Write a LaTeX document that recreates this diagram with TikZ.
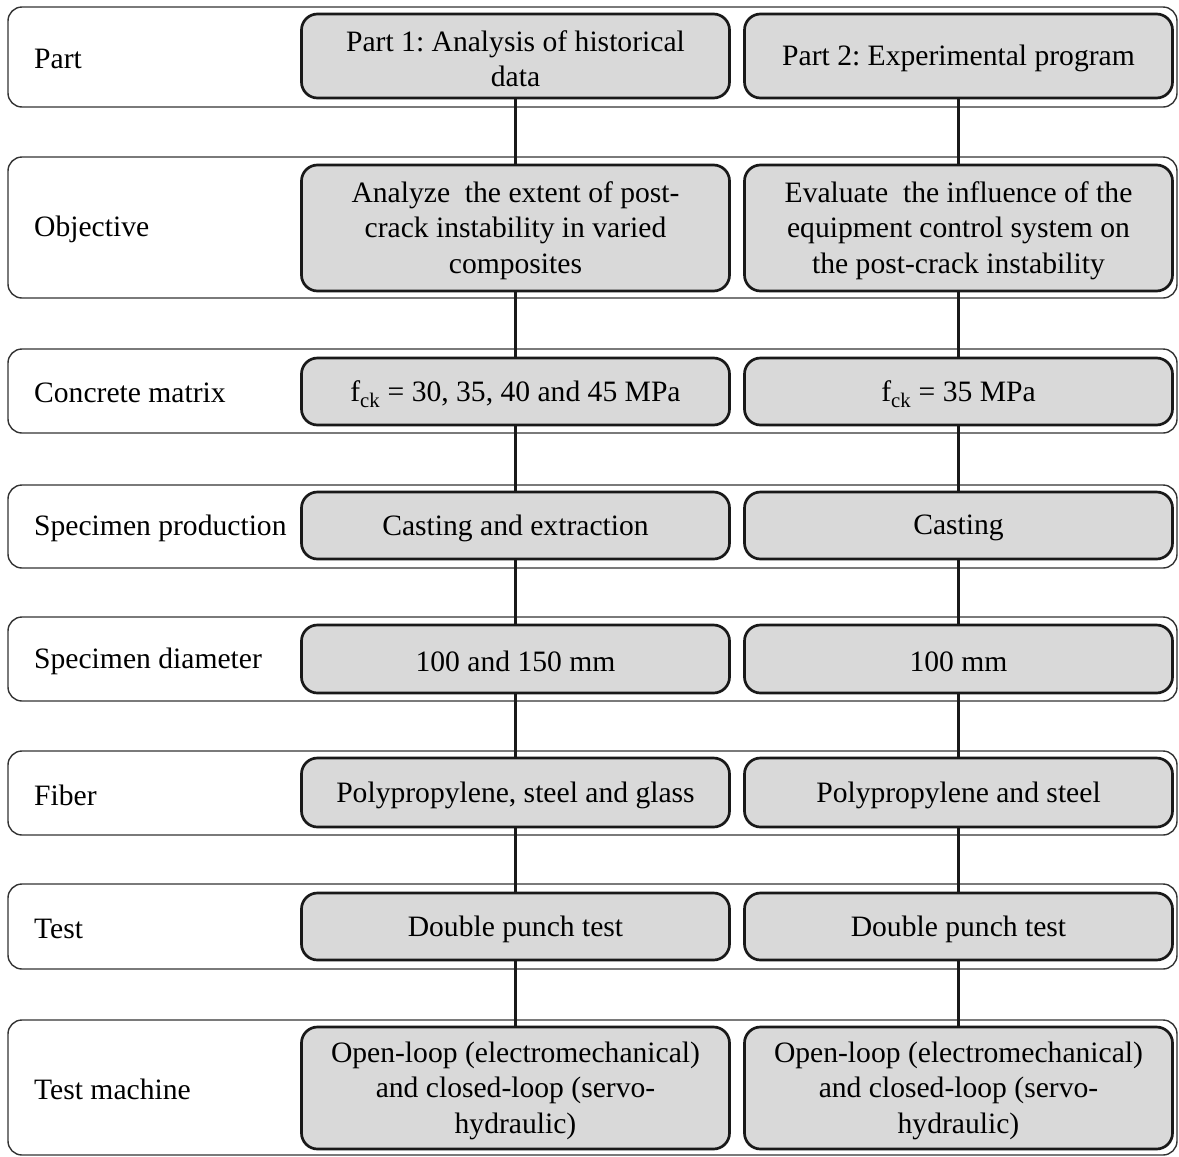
\documentclass[tikz,border=0pt]{standalone}
\usepackage{fontspec}
\setmainfont{Liberation Serif}
\frenchspacing
\begin{document}
\begin{tikzpicture}[x=1pt,y=-1pt,
  rowbox/.style={draw=black!80, line width=1.4pt, rounded corners=14pt, fill=white,
    minimum width=1169pt, inner sep=0pt, outer sep=0pt},
  graybox/.style={draw=black!90, line width=2.7pt, rounded corners=16pt, fill=gray!30,
    minimum width=428pt, inner sep=0pt, outer sep=0pt},
  boxtext/.style={align=center, inner sep=0pt, yshift=-2.5pt,
    font=\fontsize{29.6}{35.5}\selectfont},
  rowlabel/.style={anchor=west, inner sep=0pt, yshift=-2pt,
    font=\fontsize{29.6}{35.5}\selectfont},
  link/.style={draw=black!90, line width=2.4pt}]
\useasboundingbox (0,0) rectangle (1179,1157);
\fill[white] (0,0) rectangle (1179,1157);

% row frames
\node[rowbox, minimum height=100pt] (O1) at (592.5,57) {};
\node[rowbox, minimum height=141pt] (O2) at (592.5,227.5) {};
\node[rowbox, minimum height=84pt] (O3) at (592.5,391) {};
\node[rowbox, minimum height=83pt] (O4) at (592.5,526.5) {};
\node[rowbox, minimum height=84pt] (O5) at (592.5,659) {};
\node[rowbox, minimum height=84pt] (O6) at (592.5,793) {};
\node[rowbox, minimum height=85pt] (O7) at (592.5,926.5) {};
\node[rowbox, minimum height=135pt] (O8) at (592.5,1087.5) {};

% row labels
\node[rowlabel] (T1) at (34,57) {Part};
\node[rowlabel] (T2) at (34,227.5) {Objective};
\node[rowlabel] (T3) at (34,391) {Concrete matrix};
\node[rowlabel] (T4) at (34,526.5) {Specimen production};
\node[rowlabel] (T5) at (34,659) {Specimen diameter};
\node[rowlabel] (T6) at (34,793) {Fiber};
\node[rowlabel] (T7) at (34,926.5) {Test};
\node[rowlabel] (T8) at (34,1087.5) {Test machine};

% gray boxes
\node[graybox, minimum height=84pt]  (L1) at (515.5,56) {};
\node[graybox, minimum height=84pt]  (R1) at (958.5,56) {};
\node[graybox, minimum height=126pt] (L2) at (515.5,228) {};
\node[graybox, minimum height=126pt] (R2) at (958.5,228) {};
\node[graybox, minimum height=67pt]  (L3) at (515.5,391.5) {};
\node[graybox, minimum height=67pt]  (R3) at (958.5,391.5) {};
\node[graybox, minimum height=67pt]  (L4) at (515.5,525.5) {};
\node[graybox, minimum height=67pt]  (R4) at (958.5,525.5) {};
\node[graybox, minimum height=68pt]  (L5) at (515.5,659) {};
\node[graybox, minimum height=68pt]  (R5) at (958.5,659) {};
\node[graybox, minimum height=69pt]  (L6) at (515.5,792.5) {};
\node[graybox, minimum height=69pt]  (R6) at (958.5,792.5) {};
\node[graybox, minimum height=67pt]  (L7) at (515.5,926.5) {};
\node[graybox, minimum height=67pt]  (R7) at (958.5,926.5) {};
\node[graybox, minimum height=122pt] (L8) at (515.5,1088) {};
\node[graybox, minimum height=122pt] (R8) at (958.5,1088) {};

% texts in gray boxes
\node[boxtext] (L1t) at (L1) {Part 1: Analysis of historical\\data};
\node[boxtext] (R1t) at (R1) {Part 2: Experimental program};
\node[boxtext] (L2t) at (L2) {Analyze\ \ the extent of post-\\crack instability in varied\\composites};
\node[boxtext] (R2t) at (R2) {Evaluate\ \ the influence of the\\equipment control system on\\the post-crack instability};
\node[boxtext] (L3t) at (L3) {f\textsubscript{ck} = 30, 35, 40 and 45 MPa};
\node[boxtext] (R3t) at (R3) {f\textsubscript{ck} = 35 MPa};
\node[boxtext] (L4t) at (L4) {Casting and extraction};
\node[boxtext] (R4t) at (R4) {Casting};
\node[boxtext] (L5t) at (L5) {100 and 150 mm};
\node[boxtext] (R5t) at (R5) {100 mm};
\node[boxtext] (L6t) at (L6) {Polypropylene, steel and glass};
\node[boxtext] (R6t) at (R6) {Polypropylene and steel};
\node[boxtext] (L7t) at (L7) {Double punch test};
\node[boxtext] (R7t) at (R7) {Double punch test};
\node[boxtext] (L8t) at (L8) {Open-loop (electromechanical)\\and closed-loop (servo-\\hydraulic)};
\node[boxtext] (R8t) at (R8) {Open-loop (electromechanical)\\and closed-loop (servo-\\hydraulic)};

% connectors
\foreach \a/\b in {1/2,2/3,3/4,4/5,5/6,6/7,7/8}{
  \draw[link] (L\a.south) -- (L\b.north);
  \draw[link] (R\a.south) -- (R\b.north);
}
\end{tikzpicture}
\end{document}
